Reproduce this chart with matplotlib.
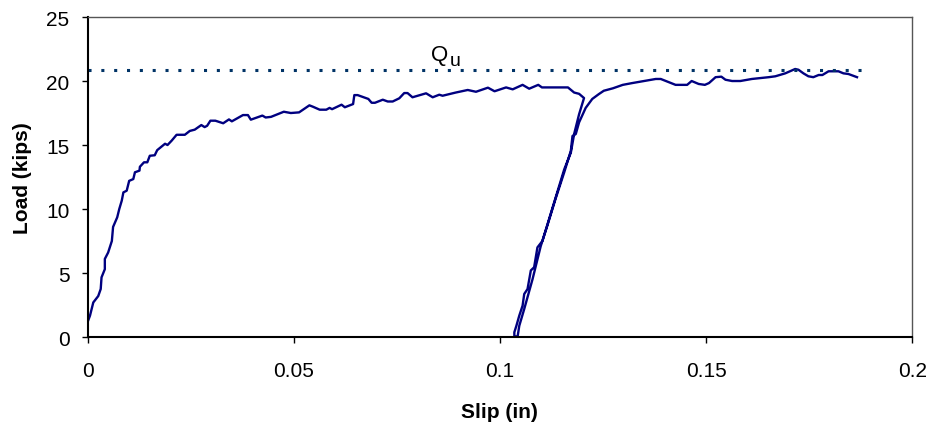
import matplotlib
matplotlib.use("Agg")
import matplotlib.pyplot as plt
import numpy as np

plt.rcParams['font.family'] = ['Liberation Sans', 'DejaVu Sans']

# initial loading branch
slip_load = [0.0000, 0.0000, 0.0006, 0.0014, 0.0026, 0.0032, 0.0034, 0.0042, 0.0042, 0.0050,
             0.0059, 0.0062, 0.0072, 0.0077, 0.0083, 0.0087, 0.0095, 0.0101, 0.0111, 0.0115,
             0.0126, 0.0127, 0.0137, 0.0145, 0.0151, 0.0163, 0.0169, 0.0188, 0.0194, 0.0204,
             0.0216, 0.0236, 0.0248, 0.0260, 0.0276, 0.0284, 0.0290, 0.0298, 0.0310, 0.0329,
             0.0343, 0.0350, 0.0377, 0.0389, 0.0396, 0.0424, 0.0432, 0.0445, 0.0476, 0.0493,
             0.0513, 0.0538, 0.0546, 0.0563, 0.0579, 0.0587, 0.0593, 0.0616, 0.0624, 0.0644,
             0.0647, 0.0655, 0.0681, 0.0689, 0.0697, 0.0716, 0.0728, 0.0740, 0.0756, 0.0768,
             0.0776, 0.0788, 0.0821, 0.0837, 0.0853, 0.0861, 0.0893, 0.0922, 0.0942, 0.0971,
             0.0987, 0.1015, 0.1031, 0.1055, 0.1071, 0.1093, 0.1102, 0.1165, 0.1180, 0.1192,
             0.1204]
load_load = [0.0, 1.15, 1.67, 2.7, 3.2, 3.75, 4.66, 5.3, 6.1, 6.6,
             7.5, 8.6, 9.35, 10.0, 10.65, 11.3, 11.43, 12.2, 12.34, 12.87,
             13.0, 13.3, 13.65, 13.65, 14.16, 14.2, 14.6, 15.1, 15.0, 15.34,
             15.8, 15.8, 16.1, 16.2, 16.56, 16.4, 16.5, 16.9, 16.9, 16.7,
             17.0, 16.85, 17.34, 17.34, 16.98, 17.3, 17.15, 17.2, 17.6, 17.5,
             17.55, 18.1, 18.0, 17.76, 17.76, 17.9, 17.8, 18.15, 17.95, 18.2,
             18.9, 18.9, 18.6, 18.3, 18.3, 18.54, 18.4, 18.4, 18.65, 19.06,
             19.06, 18.73, 19.04, 18.73, 18.93, 18.85, 19.1, 19.3, 19.16, 19.48,
             19.2, 19.5, 19.35, 19.7, 19.4, 19.7, 19.5, 19.5, 19.1, 19.0,
             18.67]

# unloading branch
slip_unload = [0.1192, 0.1180, 0.1172, 0.1156, 0.1139, 0.1119, 0.1103, 0.1091, 0.1083, 0.1075,
               0.1067, 0.1059, 0.1055, 0.1047, 0.1040, 0.1035, 0.1035, 0.1043]
load_unload = [17.4, 15.86, 14.4, 13.1, 11.3, 9.2, 7.5, 7.0, 5.45, 5.2,
               3.75, 3.36, 2.45, 1.67, 0.88, 0.37, 0.05, 0.05]

# reloading branch
slip_reload = [0.1047, 0.1059, 0.1079, 0.1099, 0.1115, 0.1135, 0.1156, 0.1172, 0.1176, 0.1184,
               0.1192, 0.1208, 0.1224, 0.1240, 0.1252, 0.1274, 0.1298, 0.1321, 0.1378, 0.1390,
               0.1426, 0.1454, 0.1465, 0.1482, 0.1497, 0.1507, 0.1523, 0.1537, 0.1547, 0.1563,
               0.1583, 0.1611, 0.1652, 0.1668, 0.1692, 0.1716, 0.1724, 0.1736, 0.1748, 0.1760,
               0.1773, 0.1782, 0.1797, 0.1821, 0.1833, 0.1845, 0.1866]
load_reload = [0.88, 2.19, 4.5, 7.1, 8.7, 10.8, 12.87, 14.55, 15.7, 15.86,
               16.77, 17.9, 18.6, 18.98, 19.24, 19.43, 19.7, 19.84, 20.16, 20.16,
               19.7, 19.7, 20.0, 19.77, 19.7, 19.84, 20.3, 20.34, 20.1, 20.0,
               20.0, 20.16, 20.3, 20.37, 20.6, 20.94, 20.88, 20.6, 20.37, 20.3,
               20.47, 20.47, 20.76, 20.76, 20.6, 20.55, 20.3]

qu = 20.85
qu_slip = [0.0, 0.1894]

x_ticks = [0, 0.05, 0.1, 0.15, 0.2]
x_labels = ['0', '0.05', '0.1', '0.15', '0.2']
y_ticks = [0, 5, 10, 15, 20, 25]

slip = np.concatenate([slip_load, slip_unload, slip_reload])
load = np.concatenate([load_load, load_unload, load_reload])

fig = plt.figure(figsize=(9.33, 4.27), dpi=100)
ax = fig.add_axes([0.0938, 0.2084, 0.884, 0.7494])

ax.plot(slip, load, color='#000080', lw=1.7, solid_joinstyle='round')
ax.plot(qu_slip, [qu, qu], color='#003366', lw=2.2, linestyle=(0, (1, 3.2)))

# Q with subscript u, drawn as two texts
ax.text(0.0834, 21.66, 'Q', fontsize=16, va='baseline', ha='left')
ax.text(0.0878, 21.25, 'u', fontsize=14, va='baseline', ha='left')

ax.set_xlim(0, 0.2)
ax.set_ylim(0, 25)
ax.set_xticks(x_ticks)
ax.set_xticklabels(x_labels)
ax.set_yticks(y_ticks)
ax.tick_params(labelsize=15, length=4, width=1, direction='out', color='black')
ax.tick_params(axis='y', pad=9)
ax.tick_params(axis='x', pad=13)

ax.spines['left'].set_linewidth(1.5)
ax.spines['bottom'].set_linewidth(1.5)
ax.spines['top'].set_color('#555555')
ax.spines['right'].set_color('#555555')
ax.spines['top'].set_linewidth(1)
ax.spines['right'].set_linewidth(1)

ax.set_xlabel('Slip (in)', fontsize=15, fontweight='bold', labelpad=16)
ax.set_ylabel('Load (kips)', fontsize=15, fontweight='bold', labelpad=10)

fig.savefig('out.png', dpi=100)
